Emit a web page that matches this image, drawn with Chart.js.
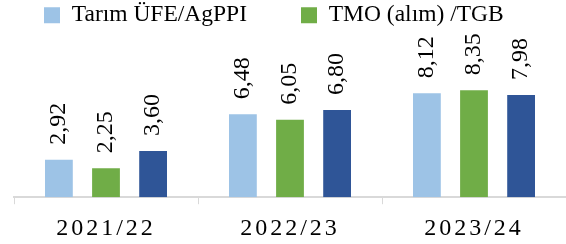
<!DOCTYPE html>
<html>
<head>
<meta charset="utf-8">
<script src="https://cdn.jsdelivr.net/npm/chart.js@4/dist/chart.umd.min.js"></script>
<style>
  html, body { margin: 0; padding: 0; background: #fff; }
  #wrap { width: 566px; height: 244px; position: relative; }
</style>
</head>
<body>
<div id="wrap"><canvas id="chartCanvas"></canvas></div>
<script>
// Veriler
const periods = ['2021/22', '2022/23', '2023/24'];
const seriesNames = ['Tarım ÜFE/AgPPI', 'TMO (alım) /TGB', 'Seri 3'];
const agppiValues = [2.92, 6.48, 8.12];
const tmoValues = [2.25, 6.05, 8.35];
const thirdValues = [3.60, 6.80, 7.98];
const seriesColors = ['#9dc3e6', '#70ad47', '#2f5597'];

Chart.defaults.font.family = "'Liberation Serif', 'Times New Roman', serif";
Chart.defaults.color = '#000000';

// Çubukların üstüne döndürülmüş değer etiketleri + eksen yazıları için harf aralığı
const barLabels = {
    id: 'barLabels',
    afterDatasetsDraw(chart) {
        const ctx = chart.ctx;
        ctx.save();
        ctx.font = "24px 'Liberation Serif', 'Times New Roman', serif";
        ctx.fillStyle = '#000000';
        ctx.textAlign = 'left';
        ctx.textBaseline = 'middle';
        chart.data.datasets.forEach((ds, i) => {
            chart.getDatasetMeta(i).data.forEach((bar, j) => {
                const txt = ds.data[j].toFixed(2).replace('.', ',');
                ctx.save();
                ctx.translate(bar.x, bar.y - 15);
                ctx.rotate(-Math.PI / 2);
                ctx.fillText(txt, 0, 0);
                ctx.restore();
            });
        });
        ctx.restore();
        // x ekseni etiketleri (z: 1) bundan sonra çiziliyor
        ctx.letterSpacing = '3px';
    },
    afterDraw(chart) {
        chart.ctx.letterSpacing = '0px';
    }
};

const ctx = document.getElementById('chartCanvas').getContext('2d');
new Chart(ctx, {
    type: 'bar',
    data: {
        labels: periods,
        datasets: [
            { label: seriesNames[0], data: agppiValues, backgroundColor: seriesColors[0] },
            { label: seriesNames[1], data: tmoValues, backgroundColor: seriesColors[1] },
            { label: seriesNames[2], data: thirdValues, backgroundColor: seriesColors[2] }
        ]
    },
    options: {
        responsive: true,
        maintainAspectRatio: false,
        animation: false,
        categoryPercentage: 0.768,
        barPercentage: 0.59,
        layout: { padding: { left: -10, right: -5, top: -50.5, bottom: -9 } },
        plugins: {
            tooltip: { enabled: false },
            legend: {
                position: 'top',
                align: 'start',
                labels: {
                    font: { size: 23.5 },
                    boxWidth: 16,
                    boxHeight: 16,
                    padding: 54,
                    filter: (item) => item.datasetIndex < 2
                }
            }
        },
        scales: {
            x: {
                grid: {
                    display: true,
                    drawOnChartArea: false,
                    drawTicks: true,
                    tickLength: 7,
                    color: '#d9d9d9',
                    lineWidth: 1
                },
                border: { display: true, color: '#d9d9d9', width: 2 },
                ticks: { font: { size: 24 }, padding: 10, z: 1, color: '#000000' }
            },
            y: {
                min: 0,
                max: 12.5,
                grid: { display: false },
                border: { display: false },
                ticks: { display: false },
                afterFit: (scale) => { scale.width = 24; }
            }
        }
    },
    plugins: [barLabels]
});
</script>
</body>
</html>
